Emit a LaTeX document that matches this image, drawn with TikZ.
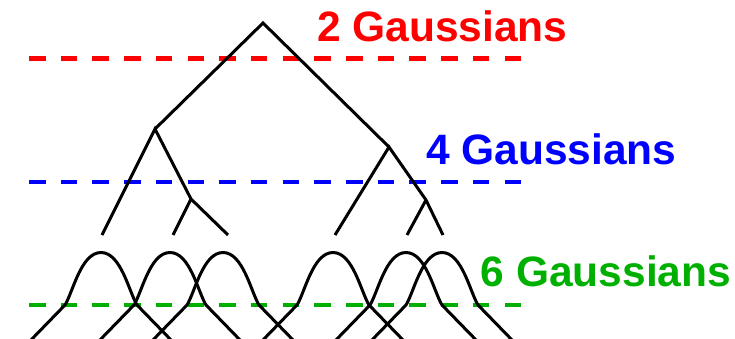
\documentclass[tikz,border=0pt]{standalone}
\usepackage{fontspec}
\setmainfont{Liberation Sans}
\usetikzlibrary{positioning}
\definecolor{lvltwo}{HTML}{FF0000}
\definecolor{lvlfour}{HTML}{0000FF}
\definecolor{lvlsix}{HTML}{00B000}
\tikzset{
  branch/.style = {draw=black, line width=3pt, line join=miter},
  bell/.style   = {draw=black, line width=3pt},
  cut/.style    = {line width=4.3pt, dash pattern=on 16.5pt off 15.2pt},
  tag/.style    = {anchor=base west, inner sep=0pt,
                   font=\bfseries\fontsize{42.5}{48}\selectfont},
}

\begin{document}
\begin{tikzpicture}[x=1pt,y=-1pt]
  \useasboundingbox (0,0) rectangle (735,339);
  % level cuts
  \draw[cut, draw=lvltwo]  (29,58.5) -- (521,58.5);
  \draw[cut, draw=lvlfour] (29,182.3) -- (521,182.3);
  \draw[cut, draw=lvlsix]  (29,305) -- (521,305);
  % tree
  \coordinate (root) at (263,23);
  \coordinate (l)  at (155,129);
  \coordinate (r)  at (389,147);
  \coordinate (lr) at (191,199);
  \coordinate (rr) at (426,200);
  \coordinate (leafa) at (102,235);
  \coordinate (leafb) at (173,235);
  \coordinate (leafc) at (228,235);
  \coordinate (leafd) at (335,235);
  \coordinate (leafe) at (407,235);
  \coordinate (leaff) at (443,235);
  \draw[branch] (l) -- (root) -- (r);
  \draw[branch] (leafa) -- (l) -- (lr) -- (leafc);
  \draw[branch] (lr) -- (leafb);
  \draw[branch] (leafd) -- (r) -- (rr) -- (leaff);
  \draw[branch] (rr) -- (leafe);
  % gaussians
  \begin{scope}
    \clip (0,0) rectangle (735,339);
    \foreach \c in {101,170,223,333,406,442}{
      \draw[bell] ({\c-71},341) -- ({\c-36},305)
        .. controls ({\c-28},292) and ({\c-20},252.5) .. (\c,252.5)
        .. controls ({\c+20},252.5) and ({\c+28},292) .. ({\c+36},305)
        -- ({\c+71},341);}
  \end{scope}
  % labels
  \node[tag, text=lvltwo]  (two)  at (317,41.7)  {2 Gaussians};
  \node[tag, text=lvlfour] (four) at (426,164.3) {4 Gaussians};
  \node[tag, text=lvlsix]  (six)  at (480.5,286.7) {6 Gaussians};
\end{tikzpicture}
\end{document}
